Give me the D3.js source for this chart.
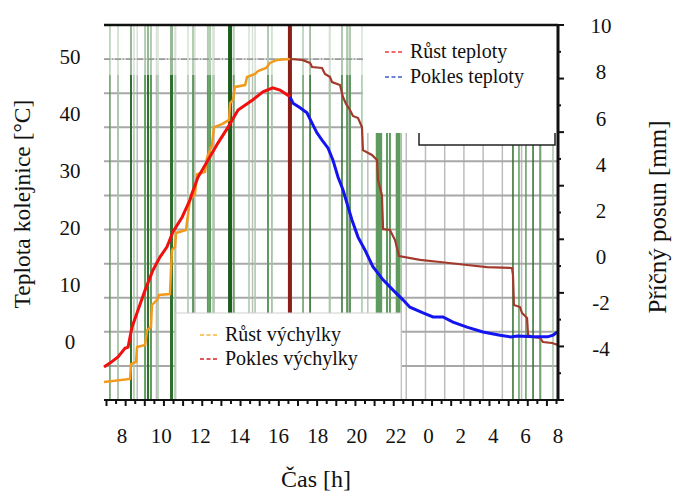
<!DOCTYPE html>
<html>
<head>
<meta charset="utf-8">
<script src="https://d3js.org/d3.v7.min.js"></script>
<style>
  body { margin: 0; background: #fff; }
  text { font-family: "Liberation Serif", "Times New Roman", serif; fill: #111; }
</style>
</head>
<body>
<svg id="chart" width="674" height="493"></svg>
<script>
// time in hours (24+ = next day), temperature in °C, displacement in mm
const riseTemp = [[7.0,-4.4],[7.33,-3.7],[7.78,-2.6],[8.15,-1.1],[8.31,-0.9],[8.51,2.6],[8.82,5.6],[9.18,9.1],[9.58,12.6],[9.94,14.9],[10.3,16.7],[10.6,19.3],[11.07,21.9],[11.47,24.9],[11.58,26.1],[11.88,28.9],[12.39,31.9],[12.9,34.9],[13.42,37.7],[13.93,40.7],[14.69,42.5],[15.2,43.9],[15.7,44.6],[16.07,44.2],[16.47,43.3],[16.58,43.0]]
const fallTemp = [[16.58,43.0],[16.74,41.9],[17.1,41.1],[17.45,40.2],[17.71,38.4],[17.96,36.7],[18.22,35.4],[18.53,34.0],[18.78,31.9],[19.04,28.9],[19.29,26.7],[19.55,23.7],[19.75,21.4],[20.06,18.4],[20.42,16.1],[20.82,13.2],[21.34,10.9],[21.85,9.1],[22.43,7.4],[22.86,6.1],[23.67,5.1],[24.28,4.4],[24.9,4.4],[25.52,3.5],[26.38,2.6],[27.37,1.75],[28.42,1.2],[29.06,0.9],[29.5,1.05],[30.48,0.9],[31.35,0.9],[31.7,1.2],[31.95,1.75]]
const riseDisp = [[7.0,-5.43],[8.41,-5.3],[8.46,-4.65],[8.72,-4.56],[8.77,-3.91],[9.18,-3.83],[9.28,-3.18],[9.48,-3.05],[9.53,-2.09],[9.79,-1.88],[9.89,-1.66],[10.45,-1.62],[10.55,0.29],[10.71,0.42],[10.76,1.03],[11.27,1.16],[11.47,2.46],[11.73,2.72],[11.83,3.58],[12.24,3.67],[12.34,4.28],[12.6,4.84],[12.7,5.62],[13.11,5.75],[13.47,5.93],[13.52,6.66],[13.67,6.79],[13.77,7.36],[14.29,7.44],[14.39,7.79],[14.8,7.92],[14.95,8.05],[15.36,8.18],[15.56,8.4],[15.92,8.53],[16.58,8.57]]
const fallDisp = [[16.58,8.57],[17.2,8.53],[17.61,8.4],[17.71,8.22],[18.22,8.18],[18.37,7.92],[18.63,7.79],[18.73,7.57],[19.14,7.44],[19.29,6.92],[19.45,6.62],[19.65,6.36],[19.8,6.1],[20.06,6.01],[20.26,5.62],[20.31,4.62],[20.77,4.41],[21.03,4.19],[21.08,3.32],[21.28,2.67],[21.34,1.2],[21.69,1.16],[21.95,0.72],[22.19,0.03],[23.48,-0.14],[24.72,-0.23],[26.38,-0.36],[27.62,-0.45],[29.16,-0.49],[29.22,-0.79],[29.28,-2.09],[29.65,-2.18],[29.78,-2.44],[30.09,-2.66],[30.15,-3.39],[30.46,-3.48],[30.89,-3.52],[31.07,-3.7],[31.63,-3.74],[32.0,-3.83]]

// background event marks: hour, shade level (0 dark .. 2 light), width
const markHours = [7.33,7.78,8.46,8.61,9.18,9.33,9.48,9.84,10.53,10.71,11.37,11.63,12.39,12.5,12.65,13.72,14.49,14.8,15.46,15.66,17.25,17.61,18.63,19.24,19.5,19.65,20.26,21.03,21.13,21.23,21.54,21.69,22.06,22.19,22.31,29.22,29.59,30.02,30.46,30.89,31.69]
const markShade = [1,2,0,2,1,0,1,2,0,2,2,1,1,1,2,1,2,2,1,2,1,0,2,0,1,1,2,1,1,1,1,1,1,1,2,0,1,1,0,1,2]
const markWidth = [1.5,1.5,2,1.5,2,2,2,1.5,3,1.5,1.5,2,2,2,1.5,1.5,1.5,1.5,2,1.5,1.5,1.5,1.5,1.5,2,2,1.5,2.5,2.5,2.5,2,2,2.5,2.5,2,1.5,1.5,1.5,1.5,1.5,1.5]
const peakHour = 16.58
const greenHour = 13.52

const xTicks = [8,10,12,14,16,18,20,22,24,26,28,30,32]
const tempTicks = [0,10,20,30,40,50]
const dispTicks = [-4,-2,0,2,4,6,8,10]

const legendTop = [["Růst teploty", "#f03a3a"], ["Pokles teploty", "#3d5fc8"]]
const legendBottom = [["Růst výchylky", "#f7b531"], ["Pokles výchylky", "#dd2020"]]

const shades = ["#2e6e2e", "#5f9b5f", "#a3c8a3"]

const L = 104, R = 558, T = 25, B = 400
const svg = d3.select("#chart")

const x = d3.scaleLinear().domain([7, 8, 22, 32]).range([L, 122, 396, R])
const yT = d3.scaleLinear().domain([0, 50]).range([342, 57])
const yD = d3.scaleLinear().domain([-4, 10]).range([349, 26])
const gridX = d3.scaleLinear().domain([0, 23]).range([118, 560])
const gridY = d3.scaleLinear().domain([0, 11]).range([B, T])
const tickX = d3.scaleLinear().domain([0, 47]).range([106.5, 556.5])
const tickY = d3.scaleLinear().domain([0, 14]).range([B, T])

// grid
svg.append("g").selectAll("line").data(d3.range(0, 23)).join("line")
    .attr("x1", d => gridX(d)).attr("x2", d => gridX(d))
    .attr("y1", T).attr("y2", B)
    .attr("stroke", "#bdbdbd").attr("stroke-width", 1.5)
svg.append("g").selectAll("line").data(d3.range(1, 11)).join("line")
    .attr("x1", L).attr("x2", R)
    .attr("y1", d => gridY(d)).attr("y2", d => gridY(d))
    .attr("stroke", "#a8a8a8").attr("stroke-width", 2)

// green event marks
svg.append("g").selectAll("line").data(markHours).join("line")
    .attr("x1", d => x(d)).attr("x2", d => x(d))
    .attr("y1", T).attr("y2", B)
    .attr("stroke", (d, i) => shades[markShade[i]])
    .attr("stroke-width", (d, i) => markWidth[i])

// faded upper band
svg.append("rect").attr("x", L).attr("y", T + 1).attr("width", 363 - L).attr("height", 49)
    .attr("fill", "#fff").attr("opacity", 0.5)
svg.append("line").attr("x1", L).attr("x2", 363).attr("y1", gridY(10)).attr("y2", gridY(10))
    .attr("stroke", "#888").attr("stroke-width", 1.2).attr("stroke-dasharray", "6,2,1,2")

svg.append("line").attr("x1", x(greenHour)).attr("x2", x(greenHour)).attr("y1", T).attr("y2", B)
    .attr("stroke", "#1d5e1d").attr("stroke-width", 4)
svg.append("line").attr("x1", x(peakHour)).attr("x2", x(peakHour)).attr("y1", T).attr("y2", B)
    .attr("stroke", "#8a1f1a").attr("stroke-width", 4)

// legend areas
svg.append("rect").attr("x", 419).attr("y", 100).attr("width", 136).attr("height", 45)
    .attr("fill", "#fff").attr("stroke", "#222").attr("stroke-width", 1.5)
svg.append("rect").attr("x", 363).attr("y", T + 1).attr("width", R - 363).attr("height", 107).attr("fill", "#fff")
svg.append("rect").attr("x", 176).attr("y", 313).attr("width", 225).attr("height", B - 313)
    .attr("fill", "#fff").attr("stroke", "#d0d0d0").attr("stroke-width", 1)

// curves
const lineT = d3.line().x(d => x(d[0])).y(d => yT(d[1]))
const lineD = d3.line().x(d => x(d[0])).y(d => yD(d[1]))
svg.append("path").attr("d", lineD(riseDisp)).attr("fill", "none").attr("stroke", "#f29a1c").attr("stroke-width", 2.5)
svg.append("path").attr("d", lineD(fallDisp)).attr("fill", "none").attr("stroke", "#a23a2c").attr("stroke-width", 2.2)
svg.append("path").attr("d", lineT(riseTemp)).attr("fill", "none").attr("stroke", "#f01010").attr("stroke-width", 3)
svg.append("path").attr("d", lineT(fallTemp)).attr("fill", "none").attr("stroke", "#1414f0").attr("stroke-width", 3)

// frame and axes
svg.append("line").attr("x1", L).attr("x2", R).attr("y1", T).attr("y2", T).attr("stroke", "#111").attr("stroke-width", 2.5)
svg.append("line").attr("x1", L).attr("x2", R + 1).attr("y1", B).attr("y2", B).attr("stroke", "#111").attr("stroke-width", 2)
svg.append("line").attr("x1", R).attr("x2", R).attr("y1", T).attr("y2", B).attr("stroke", "#111").attr("stroke-width", 3)
svg.append("g").selectAll("line").data(d3.range(0, 48)).join("line")
    .attr("x1", d => tickX(d)).attr("x2", d => tickX(d))
    .attr("y1", B).attr("y2", d => B + (d % 2 ? 4 : 6))
    .attr("stroke", "#111").attr("stroke-width", 2)
svg.append("g").selectAll("line").data(d3.range(0, 15)).join("line")
    .attr("x1", R).attr("x2", d => R + (d % 2 ? 3 : 6))
    .attr("y1", d => tickY(d)).attr("y2", d => tickY(d))
    .attr("stroke", "#111").attr("stroke-width", 2)

// tick labels
svg.append("g").selectAll("text").data(xTicks).join("text")
    .attr("x", d => x(d)).attr("y", 443).attr("text-anchor", "middle")
    .attr("font-size", 21).text(d => d % 24)
svg.append("g").selectAll("text").data(tempTicks).join("text")
    .attr("x", 70).attr("y", d => yT(d)).attr("dy", "0.35em").attr("text-anchor", "middle")
    .attr("font-size", 21).text(d => d)
svg.append("g").selectAll("text").data(dispTicks).join("text")
    .attr("x", 601).attr("y", d => yD(d)).attr("dy", "0.35em").attr("text-anchor", "middle")
    .attr("font-size", 21).text(d => d)

// titles
svg.append("text").attr("x", 316).attr("y", 487).attr("text-anchor", "middle")
    .attr("font-size", 24).text("Čas [h]")
svg.append("text").attr("transform", "translate(30,204) rotate(-90)").attr("text-anchor", "middle")
    .attr("font-size", 23.5).text("Teplota kolejnice [°C]")
svg.append("text").attr("transform", "translate(666,217) rotate(-90)").attr("text-anchor", "middle")
    .attr("font-size", 25).text("Příčný posun [mm]")

// legends
function drawLegend(items, lx, ly, step) {
    items.forEach((it, i) => {
        svg.append("line").attr("x1", lx).attr("x2", lx + 18)
            .attr("y1", ly + i * step - 6).attr("y2", ly + i * step - 6)
            .attr("stroke", it[1]).attr("stroke-width", 1.5).attr("stroke-dasharray", "4,2.5")
        svg.append("text").attr("x", lx + 25).attr("y", ly + i * step)
            .attr("font-size", 20).text(it[0])
    })
}
drawLegend(legendTop, 385, 58, 25)
drawLegend(legendBottom, 200, 341, 24)
</script>
</body>
</html>
